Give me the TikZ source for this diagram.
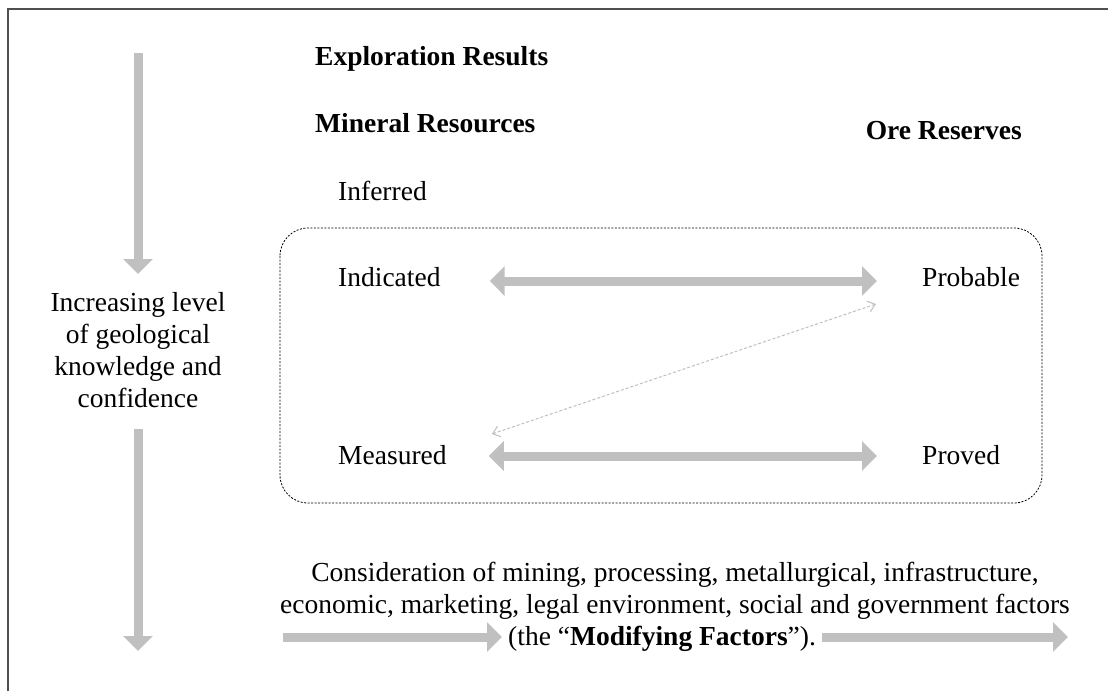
\documentclass[tikz,border=0pt]{standalone}
\usepackage{fontspec}
\setmainfont{Liberation Serif}
\usetikzlibrary{arrows.meta}
\definecolor{agray}{RGB}{192,192,192}
\definecolor{fgray}{RGB}{80,80,80}
\tikzset{
  lbl/.style={inner sep=0pt, font=\fontsize{27.5}{32}\selectfont},
  hd/.style={lbl, font=\fontsize{27.5}{32}\selectfont\bfseries},
  fat/.style={draw=agray, line width=9pt, -{Triangle[length=15pt,width=29pt]}},
  fatboth/.style={draw=agray, line width=9pt, {Triangle[length=15pt,width=29pt]}-{Triangle[length=15pt,width=29pt]}},
  thinarr/.style={draw=agray, line width=1pt, dash pattern=on 3pt off 2pt, {Straight Barb[length=7pt,width=11pt]}-{Straight Barb[length=7pt,width=11pt]}},
  frame/.style={draw=fgray, line width=2pt},
  box/.style={draw=black, line width=0.8pt, dash pattern=on 2pt off 1.5pt, rounded corners=28pt}
}
\begin{document}
\begin{tikzpicture}[x=1pt,y=-1pt]
\useasboundingbox (0,0) rectangle (1108,691);
\fill[white] (0,0) rectangle (1108,691);
% frame (top and left edges only)
\coordinate (f1) at (8,691);
\coordinate (f2) at (8,9);
\coordinate (f3) at (1108,9);
\draw[frame] (f1) -- (f2) -- (f3);
% headings
\node[hd, anchor=base west] (expl) at (315,65) {Exploration Results};
\node[hd, anchor=base west] (minres) at (315,132) {Mineral Resources};
\node[hd, anchor=base east] (ore) at (1022,139) {Ore Reserves};
% categories
\node[lbl, anchor=base west] (inf) at (338,200) {Inferred};
\node[lbl, anchor=base west] (ind) at (338,286) {Indicated};
\node[lbl, anchor=base west] (prob) at (922,286) {Probable};
\node[lbl, anchor=base west] (meas) at (338,464) {Measured};
\node[lbl, anchor=base west] (prov) at (922,464) {Proved};
% dotted box
\draw[box] (280,228) rectangle (1042,503);
% side text and arrows
\node[lbl, align=center, anchor=north] (know) at (138,292) {Increasing level\\of geological\\knowledge and\\confidence};
\coordinate (vtop) at (138,53);
\coordinate (vbot) at (138,651);
\draw[fat] (vtop) -- ([yshift=18pt]know.north);
\draw[fat] ([yshift=-21pt]know.south) -- (vbot);
% horizontal arrows
\draw[fatboth] ([xshift=49pt,yshift=5pt]ind.base east) -- ([xshift=-45pt,yshift=5pt]prob.base west);
\draw[fatboth] ([xshift=42pt,yshift=8pt]meas.base east) -- ([xshift=-45pt,yshift=8pt]prov.base west);
\draw[thinarr] ([xshift=-46pt,yshift=-18pt]prob.base west) -- ([xshift=45pt,yshift=30pt]meas.base east);
% modifying factors
\node[lbl, align=center, anchor=base] (cons) at (675,613) {Consideration of mining, processing, metallurgical, infrastructure,\\economic, marketing, legal environment, social and government factors};
\node[lbl, anchor=base west] (mf) at (508,645) {(the ``\textbf{Modifying Factors}'').};
\coordinate (mleft) at (283,637);
\coordinate (mright) at (1068,637);
\draw[fat] (mleft) -- ([xshift=-6pt]mf.west |- mleft);
\draw[fat] ([xshift=6pt]mf.east |- mright) -- (mright);
\end{tikzpicture}
\end{document}
